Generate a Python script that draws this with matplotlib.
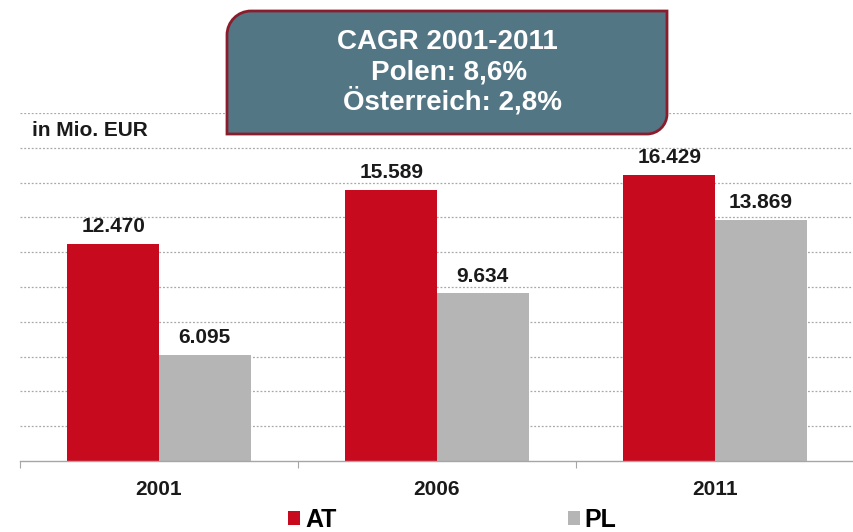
import matplotlib
matplotlib.use("Agg")
import matplotlib.pyplot as plt
from matplotlib.path import Path
from matplotlib.patches import PathPatch, Patch
import matplotlib.transforms as mtransforms
import numpy as np

plt.rcParams['font.family'] = ['Liberation Sans', 'DejaVu Sans']

years = ["2001", "2006", "2011"]
at_values = [12470, 15589, 16429]
pl_values = [6095, 9634, 13869]
at_labels = ["12.470", "15.589", "16.429"]
pl_labels = ["6.095", "9.634", "13.869"]
series_names = ["AT", "PL"]
box_lines = ["CAGR 2001-2011", "Polen: 8,6%", "Österreich: 2,8%"]
unit_label = "in Mio. EUR"

RED = "#C80A1E"
GREY = "#B5B5B5"
W, H = 854, 532

fig = plt.figure(figsize=(W / 100, H / 100), dpi=100)
ax = fig.add_axes([20 / W, (H - 461) / H, (W - 20) / W, (461 - 113) / H])

x = np.arange(len(years))
bw = 0.33
b1 = ax.bar(x - bw / 2, at_values, bw, color=RED, zorder=2)
b2 = ax.bar(x + bw / 2, pl_values, bw, color=GREY, zorder=2)

for rects, labs in ((b1, at_labels), (b2, pl_labels)):
    for r, lab in zip(rects, labs):
        ax.annotate(lab, (r.get_x() + r.get_width() / 2, r.get_height()),
                    xytext=(0, 8.5), textcoords="offset points",
                    ha="center", va="baseline", fontsize=15, fontweight="bold",
                    color="#1a1a1a")

ax.set_xlim(-0.5, 2.479)
ax.set_ylim(0, 20000)
ax.set_yticks(np.arange(2000, 20001, 2000))
ax.yaxis.grid(True, color="#A8A8A8", linestyle=(0, (1.5, 1.5)), linewidth=0.9)
ax.set_axisbelow(True)
ax.tick_params(axis="y", left=False, labelleft=False)

for s in ["top", "right", "left"]:
    ax.spines[s].set_visible(False)
ax.spines["bottom"].set_color("#A6A6A6")
ax.spines["bottom"].set_linewidth(1.0)

ax.set_xticks([-0.5, 0.5, 1.5, 2.5])
ax.set_xticklabels([])
ax.tick_params(axis="x", which="major", direction="out", length=5, width=0.8, color="#A6A6A6")
ax.set_xticks(x, minor=True)
ax.set_xticklabels(years, minor=True, fontsize=15, fontweight="bold", color="#1a1a1a")
ax.tick_params(axis="x", which="minor", length=0, pad=14)

fig.text(32 / W, 1 - 131 / H, unit_label, fontsize=15, fontweight="bold",
         color="#1a1a1a", ha="left", va="center")

# callout box (pixel coords, origin top-left)
L, R, T, B = 227, 667, 11, 134
r1, r2 = 24, 20
k = 0.5523
verts = [
    (L + r1, T), (R, T), (R, B - r2),
    (R, B - r2 + k * r2), (R - r2 + k * r2, B), (R - r2, B),
    (L, B), (L, T + r1),
    (L, T + r1 - k * r1), (L + r1 - k * r1, T), (L + r1, T),
    (L + r1, T),
]
codes = [Path.MOVETO, Path.LINETO, Path.LINETO,
         Path.CURVE4, Path.CURVE4, Path.CURVE4,
         Path.LINETO, Path.LINETO,
         Path.CURVE4, Path.CURVE4, Path.CURVE4,
         Path.CLOSEPOLY]
tr = mtransforms.Affine2D().scale(1 / W, -1 / H).translate(0, 1) + fig.transFigure
box = PathPatch(Path(verts, codes), facecolor="#537685", edgecolor="#8B1C2C",
                linewidth=2, transform=tr, zorder=5)
fig.add_artist(box)

for line, xc, yb in zip(box_lines, [447, 449, 453], [49, 80, 110]):
    fig.text(xc / W, 1 - yb / H, line, fontsize=20, fontweight="bold",
             color="white", ha="center", va="baseline", zorder=6)

handles = [Patch(facecolor=RED, edgecolor="none"), Patch(facecolor=GREY, edgecolor="none")]
fig.legend(handles, series_names, loc="lower left", bbox_to_anchor=(288 / W, 0),
           ncol=2, frameon=False, handlelength=0.48, handleheight=0.48,
           handletextpad=0.2, columnspacing=9.25, borderpad=0, borderaxespad=0,
           prop={"weight": "bold", "size": 18})

fig.savefig("out.png", dpi=100)
